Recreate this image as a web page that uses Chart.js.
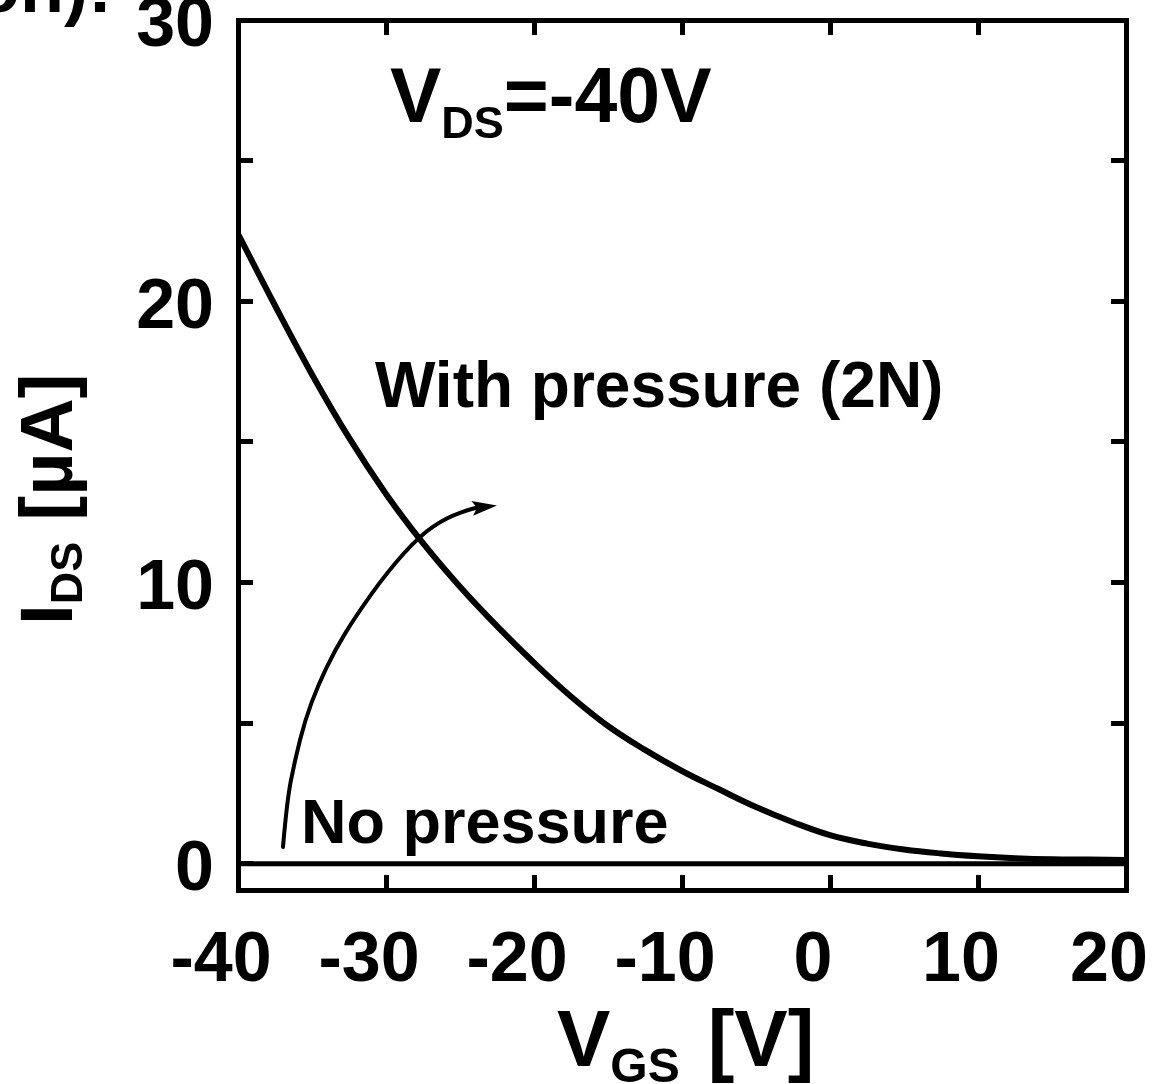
<!DOCTYPE html>
<html>
<head>
<meta charset="utf-8">
<script src="https://cdn.jsdelivr.net/npm/chart.js@4.4.1/dist/chart.umd.min.js"></script>
<style>
  html, body { margin: 0; padding: 0; background: #fff; }
  #wrap { width: 1156px; height: 1084px; }
</style>
</head>
<body>
<div id="wrap"><canvas id="ivChart" width="1156" height="1084"></canvas></div>
<script>
// transfer curve (V_DS = -40V)
const vgs = [-40, -37.5, -35, -32.5, -30, -27.5, -25, -22.5, -20, -17.5, -15, -12.5,
  -10, -7.5, -5, -2.5, 0, 2.5, 5, 7.5, 10, 12.5, 15, 17.5, 20];
const idsWithPressure = [22.4, 19.85, 17.4, 15.15, 13.15, 11.4, 9.85, 8.45, 7.15, 5.95, 4.9, 4.05,
  3.3, 2.65, 2.02, 1.48, 1.02, 0.72, 0.51, 0.37, 0.27, 0.2, 0.16, 0.15, 0.14];
const vgsNoPressure = [-40, 20];
const idsNoPressure = [0, 0];

const xTicks = [-40, -30, -20, -10, 0, 10, 20];
const xTickLabels = ["-40", "-30", "-20", "-10", "0", "10", "20"];
const yTicks = [0, 5, 10, 15, 20, 25, 30];
const yTickLabels = ["0", "", "10", "", "20", "", "30"];

// hand-drawn arrow "no pressure -> with pressure" (data coords)
const arrowPath = [
  [-36.96, 0.6], [-36.69, 2.27], [-36.15, 3.69], [-35.47, 5.11], [-34.59, 6.35],
  [-33.45, 7.6], [-32.09, 8.77], [-29.93, 10.37], [-27.7, 11.68], [-25.88, 12.32],
  [-24.12, 12.64], [-22.5, 12.74],
];

const FONT = '"Liberation Sans", Arial, Helvetica, sans-serif';

// draws text pieces one after another, each with its own size and baseline shift
function drawParts(ctx, parts, x, y) {
  let cx = x;
  parts.forEach((p) => {
    cx += p.dx || 0;
    ctx.font = `bold ${p.size}px ${FONT}`;
    ctx.fillText(p.text, cx, y + (p.dy || 0));
    cx += ctx.measureText(p.text).width;
  });
}

const annotations = {
  id: "annotations",
  afterDraw(chart) {
    const ctx = chart.ctx;
    const xs = chart.scales.x;
    const ys = chart.scales.y;
    ctx.save();
    ctx.fillStyle = "#000";
    ctx.strokeStyle = "#000";
    ctx.textBaseline = "alphabetic";
    ctx.textAlign = "left";

    // cut-off caption from the figure above
    ctx.font = `bold 72px ${FONT}`;
    ctx.textAlign = "right";
    ctx.fillText("on):", 112, 12);
    ctx.textAlign = "left";

    // V_DS label
    drawParts(ctx, [
      { text: "V", size: 77 },
      { text: "DS", size: 45, dy: 16 },
      { text: "=-40V", size: 77 },
    ], 390, 122);

    ctx.font = `bold 64px ${FONT}`;
    ctx.fillText("With pressure (2N)", 375, 407);
    ctx.font = `bold 63px ${FONT}`;
    ctx.fillText("No pressure", 301, 843);

    // x title
    drawParts(ctx, [
      { text: "V", size: 80 },
      { text: "GS", size: 48, dy: 16 },
      { text: "[V]", size: 80, dx: 28 },
    ], 557, 1066);

    // y title, rotated
    ctx.save();
    ctx.translate(72, 625);
    ctx.rotate(-Math.PI / 2);
    drawParts(ctx, [
      { text: "I", size: 75 },
      { text: "DS", size: 45, dy: 10 },
      { text: " [µA]", size: 75 },
    ], 0, 0);
    ctx.restore();

    // arrow
    const pts = arrowPath.map(([vx, vy]) => [xs.getPixelForValue(vx), ys.getPixelForValue(vy)]);
    const tip = pts[pts.length - 1];
    const prev = pts[pts.length - 2];
    const ang = Math.atan2(tip[1] - prev[1], tip[0] - prev[0]);
    const headLen = 25;
    const headW = 7.5;
    const base = [tip[0] - headLen * 0.8 * Math.cos(ang), tip[1] - headLen * 0.8 * Math.sin(ang)];
    ctx.lineWidth = 4;
    ctx.lineCap = "round";
    ctx.beginPath();
    ctx.moveTo(pts[0][0], pts[0][1]);
    for (let i = 1; i < pts.length - 2; i++) {
      const mx = (pts[i][0] + pts[i + 1][0]) / 2;
      const my = (pts[i][1] + pts[i + 1][1]) / 2;
      ctx.quadraticCurveTo(pts[i][0], pts[i][1], mx, my);
    }
    ctx.quadraticCurveTo(pts[pts.length - 2][0], pts[pts.length - 2][1], base[0], base[1]);
    ctx.stroke();
    ctx.beginPath();
    ctx.moveTo(tip[0], tip[1]);
    ctx.lineTo(tip[0] - headLen * Math.cos(ang) + headW * Math.sin(ang),
               tip[1] - headLen * Math.sin(ang) - headW * Math.cos(ang));
    ctx.lineTo(base[0], base[1]);
    ctx.lineTo(tip[0] - headLen * Math.cos(ang) - headW * Math.sin(ang),
               tip[1] - headLen * Math.sin(ang) + headW * Math.cos(ang));
    ctx.closePath();
    ctx.fill();

    ctx.restore();
  },
};

const tickFont = { family: FONT, size: 70, weight: "bold" };
const innerGrid = { drawOnChartArea: false, tickLength: -15, lineWidth: 5, color: "#000" };
const box = { display: true, width: 5, color: "#000" };

new Chart(document.getElementById("ivChart"), {
  type: "line",
  data: {
    datasets: [
      {
        label: "With pressure (2N)",
        data: vgs.map((v, i) => ({ x: v, y: idsWithPressure[i] })),
        borderColor: "#000",
        borderWidth: 6,
        pointRadius: 0,
        tension: 0.4,
      },
      {
        label: "No pressure",
        data: vgsNoPressure.map((v, i) => ({ x: v, y: idsNoPressure[i] })),
        borderColor: "#000",
        borderWidth: 5,
        pointRadius: 0,
      },
    ],
  },
  options: {
    responsive: false,
    animation: false,
    devicePixelRatio: 1,
    layout: { padding: { top: 20, right: 30, left: 0, bottom: 0 } },
    plugins: { legend: { display: false }, tooltip: { enabled: false } },
    scales: {
      x: {
        type: "linear",
        position: "bottom",
        min: -40,
        max: 20,
        afterBuildTicks: (s) => { s.ticks = xTicks.map((v) => ({ value: v })); },
        afterFit: (s) => { s.height = 194; s.paddingLeft = 0; s.paddingRight = 0; },
        ticks: {
          font: tickFont,
          color: "#000",
          padding: 45,
          labelOffset: -17,
          maxRotation: 0,
          autoSkip: false,
          callback: (v, i) => xTickLabels[i],
        },
        grid: innerGrid,
        border: box,
      },
      x2: {
        type: "linear",
        position: "top",
        min: -40,
        max: 20,
        afterBuildTicks: (s) => { s.ticks = xTicks.map((v) => ({ value: v })); },
        afterFit: (s) => { s.height = 0; s.paddingLeft = 0; s.paddingRight = 0; },
        ticks: { display: false },
        grid: innerGrid,
        border: box,
      },
      y: {
        type: "linear",
        position: "left",
        min: -0.93,
        max: 30,
        afterBuildTicks: (s) => { s.ticks = yTicks.map((v) => ({ value: v })); },
        afterFit: (s) => { s.width = 238; s.paddingTop = 0; s.paddingBottom = 0; },
        ticks: {
          font: tickFont,
          color: "#000",
          padding: 39,
          labelOffset: 7,
          autoSkip: false,
          callback: (v, i) => yTickLabels[i],
        },
        grid: innerGrid,
        border: box,
      },
      y2: {
        type: "linear",
        position: "right",
        min: -0.93,
        max: 30,
        afterBuildTicks: (s) => { s.ticks = yTicks.map((v) => ({ value: v })); },
        afterFit: (s) => { s.width = 0; s.paddingTop = 0; s.paddingBottom = 0; },
        ticks: { display: false },
        grid: innerGrid,
        border: box,
      },
    },
  },
  plugins: [annotations],
});
</script>
</body>
</html>
